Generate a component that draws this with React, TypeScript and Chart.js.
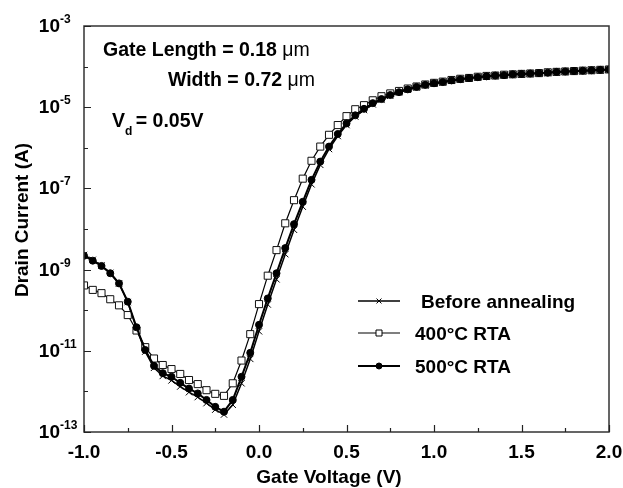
import React, { useEffect, useRef } from "react";
import { Chart, registerables } from "chart.js";
import { drawPoint } from "chart.js/helpers";

Chart.register(...registerables);

// Gate voltage (V)
const gateVoltage = [
  -1.0, -0.95, -0.9, -0.85, -0.8, -0.75, -0.7, -0.65, -0.6, -0.55,
  -0.5, -0.45, -0.4, -0.35, -0.3, -0.25, -0.2, -0.15, -0.1, -0.05,
  0.0, 0.05, 0.1, 0.15, 0.2, 0.25, 0.3, 0.35, 0.4, 0.45,
  0.5, 0.55, 0.6, 0.65, 0.7, 0.75, 0.8, 0.85, 0.9, 0.95,
  1.0, 1.05, 1.1, 1.15, 1.2, 1.25, 1.3, 1.35, 1.4, 1.45,
  1.5, 1.55, 1.6, 1.65, 1.7, 1.75, 1.8, 1.85, 1.9, 1.95, 2.0,
];

// log10 of drain current (A)
const logBeforeAnnealing = [
  -8.64, -8.76, -8.9, -9.08, -9.34, -9.8, -10.45, -11.02, -11.42, -11.62,
  -11.73, -11.88, -12.02, -12.14, -12.29, -12.45, -12.57, -12.33, -11.8, -11.2,
  -10.52, -9.86, -9.24, -8.62, -8.02, -7.45, -6.9, -6.42, -6.03, -5.71,
  -5.44, -5.23, -5.07, -4.93, -4.82, -4.72, -4.64, -4.57, -4.51, -4.46,
  -4.42, -4.39, -4.35, -4.32, -4.29, -4.27, -4.25, -4.23, -4.22, -4.2,
  -4.19, -4.18, -4.17, -4.16, -4.14, -4.13, -4.12, -4.11, -4.1, -4.09, -4.08,
];
const log400RTA = [
  -9.39, -9.5, -9.58, -9.73, -9.88, -10.12, -10.5, -10.91, -11.19, -11.35,
  -11.45, -11.57, -11.72, -11.82, -11.97, -12.06, -12.11, -11.8, -11.24, -10.59,
  -9.85, -9.15, -8.52, -7.86, -7.29, -6.76, -6.32, -5.97, -5.68, -5.44,
  -5.22, -5.05, -4.95, -4.83, -4.73, -4.66, -4.6, -4.54, -4.49, -4.44,
  -4.4, -4.37, -4.33, -4.3, -4.28, -4.25, -4.23, -4.22, -4.2, -4.19,
  -4.18, -4.17, -4.16, -4.14, -4.13, -4.12, -4.11, -4.1, -4.09, -4.08, -4.07,
];
const log500RTA = [
  -8.66, -8.78, -8.91, -9.09, -9.34, -9.79, -10.42, -10.98, -11.37, -11.55,
  -11.64, -11.79, -11.93, -12.05, -12.21, -12.38, -12.5, -12.21, -11.64, -11.05,
  -10.36, -9.71, -9.09, -8.47, -7.88, -7.33, -6.79, -6.34, -5.97, -5.66,
  -5.4, -5.2, -5.04, -4.9, -4.8, -4.7, -4.63, -4.56, -4.5, -4.45,
  -4.41, -4.38, -4.34, -4.31, -4.28, -4.26, -4.24, -4.22, -4.21, -4.19,
  -4.18, -4.17, -4.16, -4.15, -4.13, -4.12, -4.11, -4.1, -4.09, -4.08, -4.07,
];

const seriesNames = ["Before annealing", "400\u00B0C RTA", "500\u00B0C RTA"];

const xTickValues = [-1.0, -0.5, 0.0, 0.5, 1.0, 1.5, 2.0];
const xTickLabels = ["-1.0", "-0.5", "0.0", "0.5", "1.0", "1.5", "2.0"];
const xMinorTicks = [-0.75, -0.25, 0.25, 0.75, 1.25, 1.75];
const yTickExponents = [-3, -5, -7, -9, -11, -13];
const yMinorExponents = [-4, -6, -8, -10, -12];

const xTitle = "Gate Voltage (V)";
const yTitle = "Drain Current (A)";
const noteLength = "Gate Length = 0.18 ";
const noteWidth = "Width = 0.72 ";
const noteUnit = "\u03BCm";
const noteVd = ["V", "d", " = 0.05V"];

const FONT = "'Liberation Sans', Arial, sans-serif";
const NOTE = 19.5;

const decorPlugin = {
  id: "decor",
  afterDraw(chart: any) {
    const ctx = chart.ctx as CanvasRenderingContext2D;
    const area = chart.chartArea;
    const xs = chart.scales.x;
    const ys = chart.scales.y;
    ctx.save();

    // frame
    ctx.strokeStyle = "#333";
    ctx.lineWidth = 1.5;
    ctx.strokeRect(area.left, area.top, area.right - area.left, area.bottom - area.top);

    // ticks (inward)
    ctx.lineWidth = 1.2;
    ctx.strokeStyle = "#222";
    ctx.beginPath();
    xTickValues.forEach((v) => {
      const px = Math.round(xs.getPixelForValue(v)) + 0.5;
      ctx.moveTo(px, area.bottom);
      ctx.lineTo(px, area.bottom - 7);
    });
    xMinorTicks.forEach((v) => {
      const px = Math.round(xs.getPixelForValue(v)) + 0.5;
      ctx.moveTo(px, area.bottom);
      ctx.lineTo(px, area.bottom - 4);
    });
    yTickExponents.forEach((e) => {
      const py = Math.round(ys.getPixelForValue(Math.pow(10, e))) + 0.5;
      ctx.moveTo(area.left, py);
      ctx.lineTo(area.left + 7, py);
    });
    yMinorExponents.forEach((e) => {
      const py = Math.round(ys.getPixelForValue(Math.pow(10, e))) + 0.5;
      ctx.moveTo(area.left, py);
      ctx.lineTo(area.left + 4, py);
    });
    ctx.stroke();

    ctx.fillStyle = "#000";
    // x tick labels
    ctx.font = `bold 19px ${FONT}`;
    ctx.textAlign = "center";
    ctx.textBaseline = "alphabetic";
    xTickValues.forEach((v, i) => {
      ctx.fillText(xTickLabels[i], xs.getPixelForValue(v), 458);
    });

    // y tick labels 10^n
    yTickExponents.forEach((e) => {
      const py = ys.getPixelForValue(Math.pow(10, e));
      ctx.font = `bold 19px ${FONT}`;
      ctx.textAlign = "right";
      ctx.fillText("10", 60, py + 6);
      ctx.font = `bold 12px ${FONT}`;
      ctx.textAlign = "left";
      ctx.fillText(String(e), 60, py - 3);
    });

    // axis titles
    ctx.font = `bold 19px ${FONT}`;
    ctx.textAlign = "center";
    ctx.fillText(xTitle, 329, 483);
    ctx.save();
    ctx.translate(28, 220);
    ctx.rotate(-Math.PI / 2);
    ctx.fillText(yTitle, 0, 0);
    ctx.restore();

    // annotations
    ctx.textAlign = "left";
    ctx.font = `bold ${NOTE}px ${FONT}`;
    const w = ctx.measureText(noteLength).width;
    ctx.fillText(noteLength, 103, 56);
    ctx.font = `${NOTE}px ${FONT}`;
    ctx.fillText(noteUnit, 103 + w, 56);
    ctx.font = `bold ${NOTE}px ${FONT}`;
    const wW = ctx.measureText(noteWidth).width;
    ctx.font = `${NOTE}px ${FONT}`;
    const wU = ctx.measureText(noteUnit).width;
    const startW = 315 - wW - wU;
    ctx.font = `bold ${NOTE}px ${FONT}`;
    ctx.fillText(noteWidth, startW, 86);
    ctx.font = `${NOTE}px ${FONT}`;
    ctx.fillText(noteUnit, startW + wW, 86);

    ctx.font = `bold ${NOTE}px ${FONT}`;
    ctx.fillText(noteVd[0], 112, 127);
    const wV = ctx.measureText(noteVd[0]).width;
    ctx.font = `bold 12px ${FONT}`;
    ctx.fillText(noteVd[1], 112 + wV, 135);
    const wd = ctx.measureText(noteVd[1]).width;
    ctx.font = `bold ${NOTE}px ${FONT}`;
    ctx.fillText(noteVd[2], 112 + wV + wd - 2, 127);

    // legend
    const rows = [301, 333, 366];
    chart.data.datasets.forEach((ds: any, i: number) => {
      const y = rows[i];
      ctx.strokeStyle = "#000";
      ctx.lineWidth = ds.borderWidth;
      ctx.beginPath();
      ctx.moveTo(358, y);
      ctx.lineTo(400, y);
      ctx.stroke();
      if (ds.pointStyle === "crossRot") {
        ctx.lineWidth = 1;
        drawPoint(
          ctx,
          { pointStyle: "crossRot", radius: 3.5, borderWidth: 1, rotation: 0 } as any,
          379,
          y
        );
      } else {
        ctx.fillStyle = ds.pointBackgroundColor;
        ctx.strokeStyle = "#000";
        ctx.lineWidth = 1;
        ctx.beginPath();
        if (ds.pointStyle === "rect") {
          ctx.rect(376, y - 3, 6, 6);
        } else {
          ctx.arc(379, y, 3, 0, Math.PI * 2);
        }
        ctx.fill();
        ctx.stroke();
      }
      ctx.fillStyle = "#000";
      ctx.font = `bold 19px ${FONT}`;
      ctx.textAlign = "left";
      ctx.fillText(ds.label, i === 0 ? 421 : 415, y + 7);
    });

    ctx.restore();
  },
};

export default function App() {
  const canvasRef = useRef<HTMLCanvasElement | null>(null);

  useEffect(() => {
    document.body.style.margin = "0";
    const canvas = canvasRef.current;
    if (!canvas) return;
    const toPoints = (arr: number[]) =>
      arr.map((v, i) => ({ x: gateVoltage[i], y: Math.pow(10, v) }));

    const chart = new Chart(canvas, {
      type: "line",
      data: {
        datasets: [
          {
            label: seriesNames[0],
            data: toPoints(logBeforeAnnealing),
            borderColor: "#000",
            borderWidth: 1.5,
            pointStyle: "crossRot",
            pointRadius: 4.5,
            pointBorderWidth: 1,
            pointBorderColor: "#000",
            pointBackgroundColor: "#000",
            order: 3,
          } as any,
          {
            label: seriesNames[1],
            data: toPoints(log400RTA),
            borderColor: "#000",
            borderWidth: 1.2,
            pointStyle: "rect",
            pointRadius: 5,
            pointBorderWidth: 1,
            pointBorderColor: "#111",
            pointBackgroundColor: "#fff",
            order: 2,
          } as any,
          {
            label: seriesNames[2],
            data: toPoints(log500RTA),
            borderColor: "#000",
            borderWidth: 2,
            pointStyle: "circle",
            pointRadius: 3.5,
            pointBorderWidth: 1,
            pointBorderColor: "#000",
            pointBackgroundColor: "#000",
            order: 1,
          } as any,
        ],
      },
      options: {
        responsive: false,
        animation: false,
        events: [],
        layout: { padding: { left: 0, right: 14, top: 26, bottom: 0 } },
        plugins: { legend: { display: false }, tooltip: { enabled: false } },
        scales: {
          x: {
            type: "linear",
            min: -1,
            max: 2,
            ticks: { display: false },
            grid: { display: false },
            border: { display: false },
            afterFit: (s: any) => {
              s.height = 56;
            },
          },
          y: {
            type: "logarithmic",
            min: 1e-13,
            max: 1e-3,
            ticks: { display: false },
            grid: { display: false },
            border: { display: false },
            afterFit: (s: any) => {
              s.width = 84;
            },
          },
        },
      },
      plugins: [decorPlugin],
    });
    return () => chart.destroy();
  }, []);

  return (
    <canvas
      ref={canvasRef}
      width={623}
      height={488}
      style={{ display: "block", width: 623, height: 488 }}
    />
  );
}
